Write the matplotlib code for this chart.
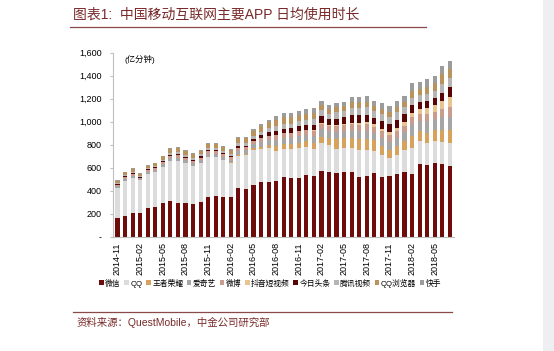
import matplotlib
matplotlib.use("Agg")
import matplotlib.pyplot as plt
from matplotlib.patches import Rectangle
from matplotlib.lines import Line2D
import numpy as np

plt.rcParams['font.family'] = ['Liberation Sans', 'Noto Sans CJK SC']

# months 2014-11 .. 2018-07
months = ['2014-11', '2014-12', '2015-01', '2015-02', '2015-03', '2015-04', '2015-05', '2015-06',
          '2015-07', '2015-08', '2015-09', '2015-10', '2015-11', '2015-12', '2016-01', '2016-02',
          '2016-03', '2016-04', '2016-05', '2016-06', '2016-07', '2016-08', '2016-09', '2016-10',
          '2016-11', '2016-12', '2017-01', '2017-02', '2017-03', '2017-04', '2017-05', '2017-06',
          '2017-07', '2017-08', '2017-09', '2017-10', '2017-11', '2017-12', '2018-01', '2018-02',
          '2018-03', '2018-04', '2018-05', '2018-06', '2018-07']

# 亿分钟
wechat = [160, 180, 203, 209, 247, 261, 290, 310, 296, 296, 284, 299, 348, 357, 348, 348,
          421, 415, 450, 478, 478, 487, 516, 507, 507, 536, 530, 571, 565, 557, 560, 565,
          522, 530, 557, 522, 527, 542, 560, 542, 629, 621, 638, 632, 617]
qq = [265, 305, 310, 280, 300, 305, 320, 345, 365, 345, 330, 345, 345, 335, 315, 290,
      280, 295, 304, 282, 290, 261, 246, 255, 265, 245, 235, 245, 235, 205, 210, 205,
      230, 225, 185, 185, 155, 170, 190, 230, 200, 195, 195, 195, 200]
wzry = [0, 0, 0, 0, 0, 0, 0, 0, 0, 0, 0, 0, 3, 5, 6, 8,
        10, 12, 15, 22, 30, 40, 42, 44, 45, 48, 50, 52, 60, 87, 90, 87,
        95, 95, 101, 85, 72, 75, 85, 107, 90, 90, 95, 100, 110]
iqiyi = [14, 18, 18, 14, 17, 17, 21, 25, 26, 25, 24, 24, 27, 26, 26, 25,
         34, 31, 36, 42, 45, 52, 53, 53, 55, 55, 60, 65, 58, 62, 62, 68,
         70, 70, 63, 68, 72, 74, 73, 100, 90, 95, 95, 110, 115]
weibo = [12, 14, 15, 11, 14, 14, 17, 20, 21, 20, 20, 20, 22, 22, 22, 20,
         26, 24, 28, 33, 36, 42, 43, 42, 44, 44, 47, 50, 45, 50, 50, 55,
         57, 57, 52, 56, 58, 58, 57, 64, 60, 65, 65, 75, 87]
douyin = [0, 0, 0, 0, 0, 0, 0, 0, 0, 0, 0, 0, 0, 0, 0, 0,
          0, 0, 0, 0, 0, 0, 1, 2, 2, 3, 3, 5, 5, 8, 8, 12,
          15, 18, 18, 22, 29, 30, 32, 35, 40, 50, 55, 65, 88]
toutiao = [7, 8, 8, 6, 7, 8, 9, 11, 12, 11, 11, 11, 12, 12, 12, 12,
           17, 16, 20, 26, 29, 38, 39, 39, 41, 42, 48, 60, 52, 58, 57, 65,
           67, 67, 60, 65, 67, 68, 67, 67, 60, 65, 65, 75, 81]
txvideo = [10, 12, 12, 9, 11, 11, 14, 17, 17, 17, 17, 16, 18, 18, 18, 17,
           24, 22, 26, 31, 35, 42, 43, 42, 44, 45, 48, 55, 48, 55, 55, 60,
           62, 62, 57, 62, 64, 65, 64, 64, 60, 63, 63, 75, 78]
qqbrowser = [19, 24, 25, 19, 23, 23, 28, 34, 34, 34, 33, 33, 35, 35, 35, 33,
             42, 40, 44, 51, 55, 55, 55, 54, 54, 53, 55, 45, 42, 45, 45, 50,
             52, 51, 45, 47, 43, 45, 45, 61, 55, 62, 62, 87, 79]
kuaishou = [3, 4, 4, 3, 4, 4, 5, 6, 6, 6, 6, 6, 7, 7, 7, 7,
            10, 9, 11, 15, 17, 33, 35, 35, 36, 37, 40, 35, 33, 38, 37, 45,
            47, 48, 42, 48, 52, 53, 53, 64, 58, 62, 64, 70, 70]

series = [wechat, qq, wzry, iqiyi, weibo, douyin, toutiao, txvideo, qqbrowser, kuaishou]
names = ['微信', 'QQ', '王者荣耀', '爱奇艺', '微博', '抖音短视频', '今日头条', '腾讯视频', 'QQ浏览器', '快手']
colors = ['#6E0B0B', '#DCDCDC', '#D6A25E', '#A6A6A6', '#C99C8E', '#E8C493',
          '#5A0505', '#B5B5B5', '#B8935E', '#9C9C9C']

title_color = '#7A2A2A'

fig = plt.figure(figsize=(5.54, 3.51), dpi=100)
fig.patch.set_facecolor('white')

# page edge strip on the right
fig.patches.append(Rectangle((543 / 554, 0), 11 / 554, 1, transform=fig.transFigure,
                             facecolor='#EEEFF3', edgecolor='none', zorder=0))

ax = fig.add_axes([113 / 554, 1 - 236.7 / 351, (454 - 113) / 554, (236.7 - 52.7) / 351])

x = np.arange(len(months))
bottom = np.zeros(len(months))
for vals, name, c in zip(series, names, colors):
    vals = np.array(vals, dtype=float)
    ax.bar(x, vals, bottom=bottom, width=0.55, color=c, label=name, linewidth=0)
    bottom += vals

ax.set_xlim(-0.6, 44.55)
ax.set_ylim(0, 1600)
ax.set_yticks(range(0, 1601, 200))
ax.set_yticklabels(['-'] + [f'{v:,}' for v in range(200, 1601, 200)], fontsize=6.5)
ax.set_xticks(x[::3])
ax.set_xticklabels(months[::3], rotation=90, fontsize=6.5)

for side in ['top', 'right']:
    ax.spines[side].set_visible(False)
ax.spines['left'].set_color('#BFBFBF')
ax.spines['bottom'].set_color('#BFBFBF')
ax.tick_params(axis='y', length=2, color='#BFBFBF', pad=6)
ax.tick_params(axis='x', length=0, pad=4)

ax.text(0.035, 0.985, '(亿分钟)', transform=ax.transAxes, fontsize=6, va='top', ha='left')

handles = [Rectangle((0, 0), 1, 1, facecolor=c, edgecolor='none') for c in colors]
fig.legend(handles, names, loc='center left', bbox_to_anchor=(99 / 554, 1 - 283 / 351),
           ncol=10, frameon=False, fontsize=5.6, handlelength=0.6, handleheight=0.6,
           handletextpad=0.2, columnspacing=0.45, borderaxespad=0, borderpad=0)

# title and underline
fig.text(73 / 554, 1 - 15 / 351, '图表1:  中国移动互联网主要APP 日均使用时长', fontsize=10,
         color=title_color, va='center', ha='left')
fig.lines.append(Line2D([70 / 554, 426 / 554], [1 - 27 / 351, 1 - 27 / 351], transform=fig.transFigure,
                        color='#8A4A4A', linewidth=0.9))

# source line and text
fig.lines.append(Line2D([73 / 554, 452 / 554], [1 - 312 / 351, 1 - 312 / 351], transform=fig.transFigure,
                        color='#8A4A4A', linewidth=0.9))
fig.text(77 / 554, 1 - 322 / 351, '资料来源：QuestMobile，中金公司研究部', fontsize=7.5,
         color=title_color, va='center', ha='left')

fig.savefig('out.png', dpi=100)
